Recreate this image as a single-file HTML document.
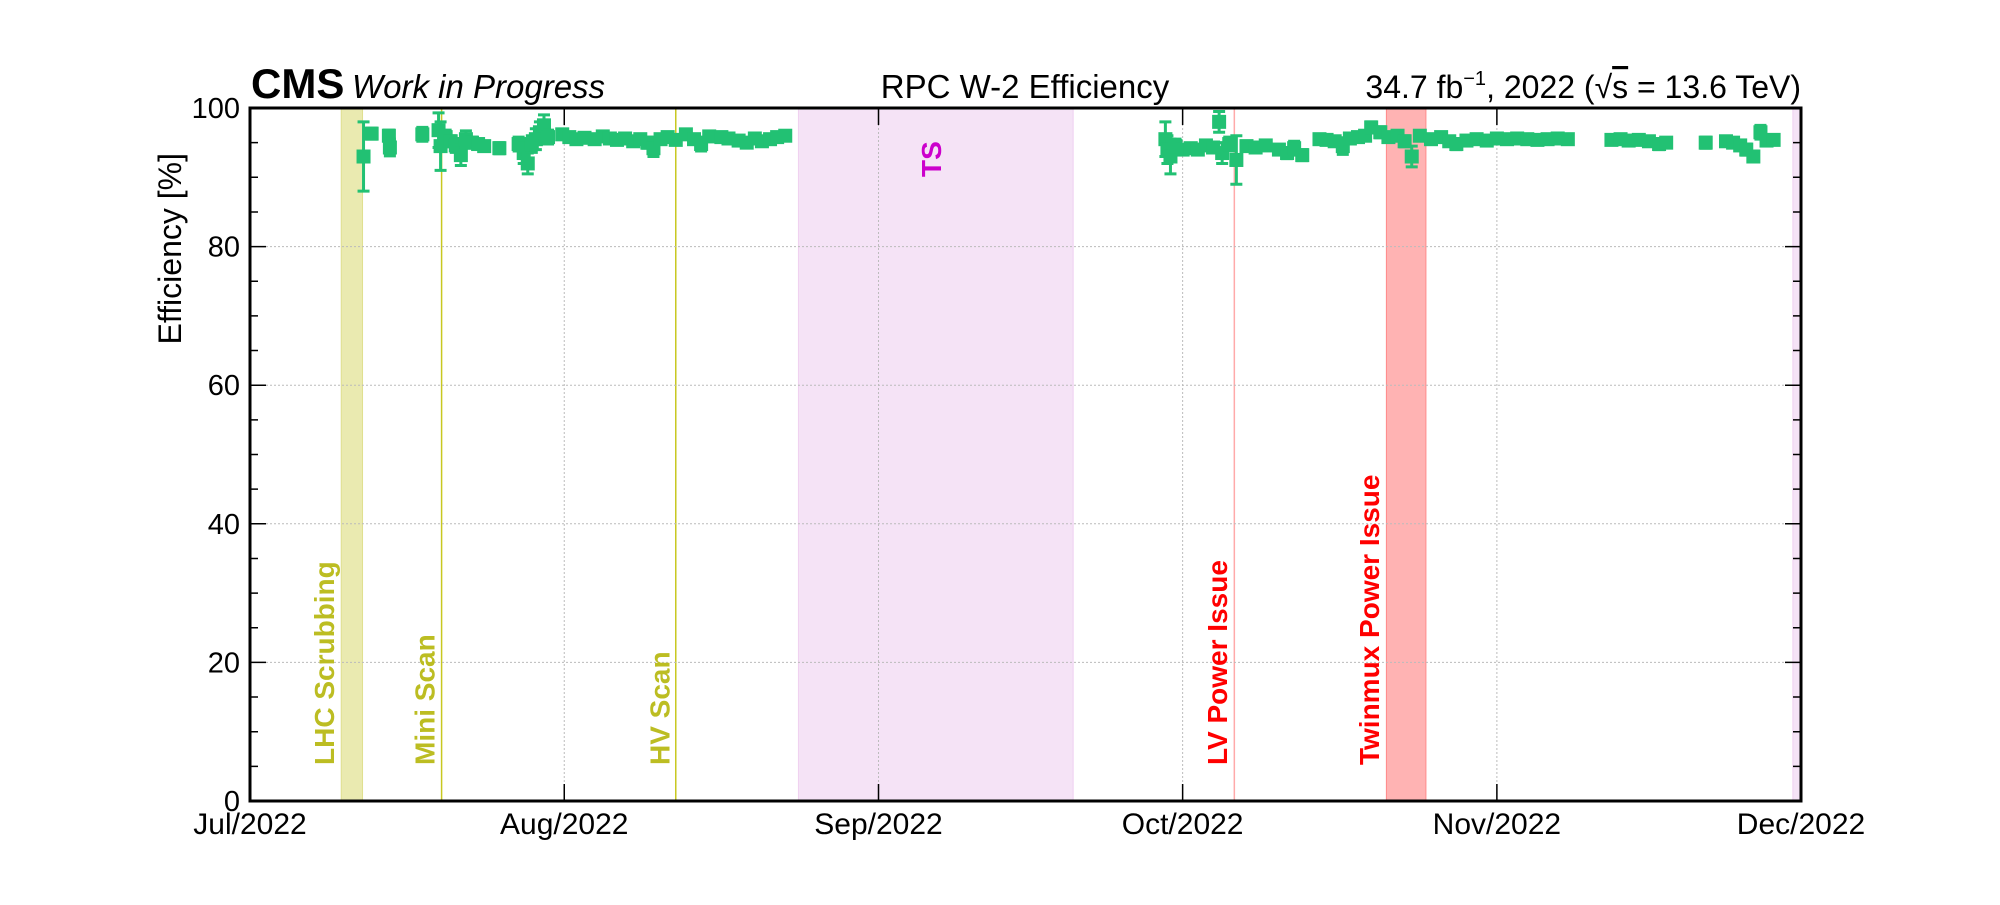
<!DOCTYPE html>
<html><head><meta charset="utf-8"><style>
html,body{margin:0;padding:0;background:#fff}
svg text{font-family:"Liberation Sans",sans-serif}
</style></head><body>
<svg id="chart" width="2000" height="900" xmlns="http://www.w3.org/2000/svg">
<g id="bands"></g><g id="grid"></g><g id="marks"></g><g id="axes"></g><g id="labels"></g>
</svg>
<script>
// data (days since 1 Jul 2022)
const days=[11.2,12.0,13.7,13.8,17.0,18.6,18.8,19.3,19.8,20.3,20.8,21.3,21.9,22.5,23.1,24.6,26.5,27.0,27.4,27.8,28.2,28.6,29.0,29.4,30.8,31.5,32.2,33.0,34.0,34.8,35.5,36.2,37.0,37.8,38.5,39.2,39.8,40.5,41.2,42.0,43.0,43.8,44.5,45.3,46.5,47.2,48.2,49.0,49.8,50.5,51.3,52.0,52.8,
90.3,90.5,90.8,91.3,92.0,92.8,93.5,94.3,95.0,95.6,95.9,96.6,97.3,98.3,99.2,100.2,101.5,102.3,103.0,103.8,105.5,106.2,107.0,107.8,108.5,109.3,110.0,110.6,111.5,112.3,113.2,113.9,114.6,115.4,116.5,117.5,118.3,119.0,120.0,121.0,122.0,123.0,124.0,125.0,126.0,127.0,128.0,129.0,130.0,
134.3,135.2,136.0,137.0,138.0,139.0,139.7,143.6,145.6,146.3,147.0,147.6,148.3,149.0,149.6,150.3];
const eff=[93,96.3,96.0,94.3,96.2,96.8,94.5,95.8,95.2,94.6,93.2,95.5,95.0,94.8,94.5,94.2,94.8,93.5,92.0,94.8,95.5,96.5,97.5,95.8,96.2,95.8,95.5,95.7,95.5,95.9,95.6,95.4,95.6,95.2,95.5,95.0,94.2,95.5,95.8,95.4,96.2,95.5,94.8,95.9,95.8,95.6,95.3,95.0,95.6,95.2,95.5,95.8,96.0,
95.5,94.0,93.0,94.5,94.0,94.2,94.0,94.6,94.3,98.0,93.5,94.8,92.5,94.5,94.3,94.6,94.0,93.5,94.2,93.2,95.5,95.4,95.2,94.5,95.6,95.8,96.0,97.2,96.5,95.8,96.0,95.2,93.0,96.0,95.5,95.8,95.2,94.8,95.3,95.5,95.3,95.6,95.5,95.6,95.5,95.4,95.5,95.6,95.5,
95.4,95.5,95.3,95.4,95.2,94.8,95.0,95.0,95.2,95.0,94.6,94.0,93.0,96.5,95.3,95.4];
const errs=[5,0.8,0.8,1.2,1.0,2.5,3.5,1.0,0.8,1.0,1.5,1.2,0.8,0.6,0.6,0.8,1.0,1.5,1.5,1.2,1.5,1.5,1.5,1.0,0.6,0.6,0.5,0.5,0.6,0.5,0.5,0.6,0.5,0.6,0.5,0.8,1.2,0.6,0.5,0.5,0.5,0.6,1.0,0.5,0.4,0.4,0.5,0.6,0.5,0.6,0.5,0.4,0.4,
2.5,2.0,2.5,1.0,0.6,0.5,0.5,0.5,0.6,1.5,1.5,1.0,3.5,0.6,0.6,0.5,0.6,0.8,1.0,0.8,0.6,0.6,0.6,1.2,0.6,0.6,0.5,0.8,0.8,0.6,0.6,0.8,1.5,0.6,0.6,0.5,0.6,0.8,0.5,0.5,0.5,0.4,0.4,0.4,0.4,0.4,0.4,0.4,0.4,
0.5,0.4,0.5,0.4,0.5,0.8,0.5,0.8,0.5,0.5,0.6,0.8,0.8,1.0,0.6,0.5];
const monthLabels=["Jul/2022","Aug/2022","Sep/2022","Oct/2022","Nov/2022","Dec/2022"];
const monthDays=[0,31,62,92,123,153];
const yTicks=[0,20,40,60,80,100];
const bandNames=["LHC Scrubbing","TS","Twinmux Power Issue","end-band"];
const bandStart=[9.0,54.1,112.1,152.2];
const bandEnd=[11.1,81.2,116.0,153];
const lineNames=["Mini Scan","HV Scan","LV Power Issue"];
const lineDays=[18.9,42.0,97.1];

const L=250,R=1801,T=108,B=801;
const X=d=>L+(R-L)*d/153;
const Y=v=>B-(B-T)*v/100;
const NS="http://www.w3.org/2000/svg";
function mk(parent,tag,attrs,text){const e=document.createElementNS(NS,tag);for(const k in attrs)e.setAttribute(k,attrs[k]);if(text!==undefined)e.textContent=text;document.getElementById(parent).appendChild(e);return e;}

const bandFill=["#eaeab0","#f5e3f6","#ffb3b3","#f5e3f6"];
const bandStroke=["#e0e090","#efd0f0","#ff8a8a","#efd0f0"];
bandNames.forEach((n,i)=>{
 const r=mk("bands","rect",{x:X(bandStart[i]),y:T,width:X(bandEnd[i])-X(bandStart[i]),height:B-T,fill:bandFill[i],stroke:bandStroke[i],"stroke-width":1});
 
 
});
const lineCol=["#c8c820","#c8c820","#ffaaaa"];
lineNames.forEach((n,i)=>{
 const l=mk("bands","line",{x1:X(lineDays[i]),x2:X(lineDays[i]),y1:T,y2:B,stroke:lineCol[i],"stroke-width":1.5});
 
 
});
yTicks.slice(1,5).forEach(v=>{
 const g=mk("grid","line",{x1:L,x2:R,y1:Y(v),y2:Y(v),stroke:"#bbb","stroke-width":1,"stroke-dasharray":"2,2"});
 
 
});
monthDays.slice(1,5).forEach(d=>{
 const g=mk("grid","line",{x1:X(d),x2:X(d),y1:T,y2:B,stroke:"#bbb","stroke-width":1,"stroke-dasharray":"2,2"});
 
 
});
const G="#22c173";
days.forEach((d,i)=>{
 const x=X(d),y=Y(eff[i]),y1=Y(Math.min(100,eff[i]+errs[i])),y2=Y(eff[i]-errs[i]);
 const eb=mk("marks","path",{d:`M${x},${y1}V${y2}M${x-6},${y1}H${x+6}M${x-6},${y2}H${x+6}`,stroke:G,"stroke-width":3,fill:"none"});
 
 
 const p=mk("marks","rect",{x:x-7,y:y-7,width:14,height:14,fill:G});
 
 
});
const fr=mk("axes","rect",{x:L,y:T,width:R-L,height:B-T,fill:"none",stroke:"#000","stroke-width":3});


for(let v=0;v<=100;v+=5){
 const len=v%20===0?16:8;
 const t=mk("axes","path",{d:`M${L},${Y(v)}h${len}M${R},${Y(v)}h${-len}`,stroke:"#000","stroke-width":1.5});
 
 
}
yTicks.forEach(v=>{
 const t=mk("axes","text",{x:L-10,y:Y(v)+10,"text-anchor":"end","font-size":29},String(v));
 
 
});
monthDays.forEach((d,i)=>{
 const t=mk("axes","path",{d:`M${X(d)},${B}v-17M${X(d)},${T}v17`,stroke:"#000","stroke-width":1.5});
 
 
 const lb=mk("axes","text",{x:X(d),y:B+33,"text-anchor":"middle","font-size":30},monthLabels[i]);
 
 
});
const annText=["LHC Scrubbing","Mini Scan","HV Scan","LV Power Issue","Twinmux Power Issue"];
const annDay=[7.3,17.2,40.4,95.4,110.4];
const annCol=["#bcbd22","#bcbd22","#bcbd22","#ff0000","#ff0000"];
annText.forEach((s,i)=>{
 const x=X(annDay[i]);
 const t=mk("labels","text",{x:0,y:0,transform:`translate(${x+10},765) rotate(-90)`,"font-size":28,"font-weight":"bold",fill:annCol[i]},s);
 
 
});
const ts=mk("labels","text",{x:0,y:0,transform:`translate(941,177) rotate(-90)`,"font-size":28,"font-weight":"bold",fill:"#cc00cc"},"TS");


</script>
<svg style="position:absolute;left:0;top:0" width="2000" height="900">
<text x="251" y="98" font-size="42" font-weight="bold" font-family="Liberation Sans,sans-serif">CMS</text>
<text x="352" y="98" font-size="33" font-style="italic" font-family="Liberation Sans,sans-serif">Work in Progress</text>
<text x="1025" y="98" font-size="33" text-anchor="middle" font-family="Liberation Sans,sans-serif">RPC W-2 Efficiency</text>
<text x="1801" y="98" font-size="32" text-anchor="end" font-family="Liberation Sans,sans-serif">34.7 fb<tspan font-size="20" dy="-13">−1</tspan><tspan dy="13">, 2022 (√</tspan><tspan text-decoration="overline">s</tspan> = 13.6 TeV)</text>
<text transform="translate(181,153) rotate(-90)" font-size="32" text-anchor="end" font-family="Liberation Sans,sans-serif">Efficiency [%]</text>
</svg>
</body></html>
